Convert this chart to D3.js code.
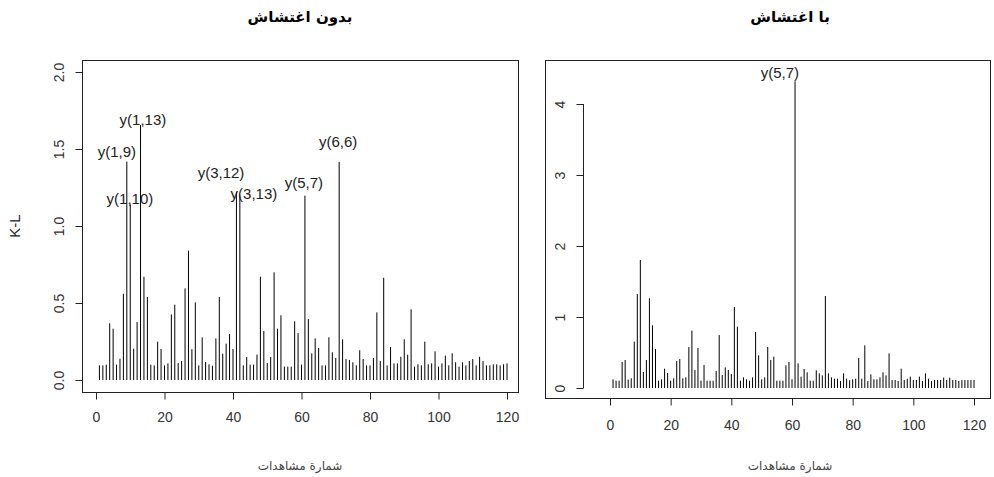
<!DOCTYPE html>
<html>
<head>
<meta charset="utf-8">
<script src="https://cdn.jsdelivr.net/npm/d3@7"></script>
<style>
  body { margin: 0; background: #fff; }
  text { font-family: "Liberation Sans", Arial, sans-serif; }
</style>
</head>
<body>
<div id="chart"></div>
<script>
const obs = d3.range(1, 121);

const klNoNoise = [
  0.095, 0.095, 0.10, 0.368, 0.333, 0.10, 0.138, 0.56, 1.418, 1.14,
  0.203, 0.377, 1.656, 0.671, 0.539, 0.10, 0.095, 0.249, 0.201, 0.095,
  0.108, 0.426, 0.489, 0.11, 0.123, 0.595, 0.84, 0.20, 0.504, 0.095,
  0.277, 0.117, 0.102, 0.093, 0.27, 0.539, 0.171, 0.236, 0.299, 0.201,
  1.22, 1.20, 0.095, 0.149, 0.10, 0.10, 0.165, 0.671, 0.318, 0.11,
  0.149, 0.699, 0.333, 0.42, 0.087, 0.087, 0.087, 0.381, 0.305, 0.10,
  1.197, 0.396, 0.173, 0.27, 0.208, 0.095, 0.095, 0.277, 0.18, 0.143,
  1.416, 0.264, 0.136, 0.13, 0.115, 0.095, 0.193, 0.136, 0.095, 0.095,
  0.143, 0.439, 0.123, 0.664, 0.095, 0.214, 0.108, 0.108, 0.151, 0.264,
  0.164, 0.459, 0.087, 0.102, 0.095, 0.249, 0.102, 0.108, 0.186, 0.087,
  0.108, 0.158, 0.095, 0.173, 0.115, 0.087, 0.115, 0.095, 0.123, 0.136,
  0.095, 0.151, 0.123, 0.095, 0.095, 0.102, 0.102, 0.095, 0.102, 0.108
];

const klNoise = [
  0.122, 0.103, 0.103, 0.366, 0.394, 0.117, 0.136, 0.653, 1.324, 1.803,
  0.225, 0.394, 1.263, 0.883, 0.549, 0.103, 0.122, 0.272, 0.211, 0.103,
  0.136, 0.38, 0.408, 0.136, 0.15, 0.577, 0.808, 0.254, 0.563, 0.103,
  0.324, 0.103, 0.103, 0.103, 0.239, 0.746, 0.183, 0.291, 0.254, 0.197,
  1.141, 0.864, 0.103, 0.15, 0.122, 0.103, 0.15, 0.789, 0.46, 0.122,
  0.15, 0.577, 0.394, 0.441, 0.103, 0.103, 0.103, 0.319, 0.366, 0.122,
  4.32, 0.347, 0.16, 0.268, 0.221, 0.103, 0.103, 0.249, 0.207, 0.178,
  1.296, 0.207, 0.15, 0.131, 0.131, 0.099, 0.207, 0.131, 0.108, 0.122,
  0.131, 0.423, 0.131, 0.601, 0.099, 0.192, 0.122, 0.122, 0.15, 0.221,
  0.178, 0.488, 0.113, 0.113, 0.099, 0.272, 0.113, 0.131, 0.16, 0.113,
  0.113, 0.16, 0.099, 0.206, 0.131, 0.099, 0.113, 0.113, 0.113, 0.146,
  0.113, 0.146, 0.113, 0.113, 0.099, 0.113, 0.113, 0.113, 0.113, 0.113
];

// point labels: text, x (obs units), y (K-L units)
const labelsNoNoise = [
  {t: "y(1,13)", x: 13.7, y: 1.69},
  {t: "y(1,9)",  x: 6.1,  y: 1.48},
  {t: "y(1,10)", x: 9.9,  y: 1.175},
  {t: "y(3,12)", x: 36.5, y: 1.344},
  {t: "y(3,13)", x: 46.1, y: 1.208},
  {t: "y(5,7)",  x: 60.7, y: 1.28},
  {t: "y(6,6)",  x: 70.7, y: 1.545}
];
const labelsNoise = [
  {t: "y(5,7)", x: 56.0, y: 4.44}
];

const xTicks = [0, 20, 40, 60, 80, 100, 120];
const yTicksLeft = [0, 0.5, 1.0, 1.5, 2.0];
const yTicksRight = [0, 1, 2, 3, 4];

const titleLeft = "بدون اغتشاش";
const titleRight = "با اغتشاش";
const xTitle = "شمارة مشاهدات";
const yTitle = "K-L";

const svg = d3.select("#chart").append("svg")
    .attr("width", 994)
    .attr("height", 477)
    .style("background", "#fff");

function drawPanel(p) {
    let x = d3.scaleLinear().domain([0, 120]).range(p.xr);
    let y = d3.scaleLinear().domain(p.yd).range(p.yr);
    let g = svg.append("g");

    // frame
    g.append("rect")
        .attr("x", p.box[0] + 0.5).attr("y", p.box[1] + 0.5)
        .attr("width", p.box[2] - p.box[0]).attr("height", p.box[3] - p.box[1])
        .attr("fill", "none").attr("stroke", "#222").attr("stroke-width", 1);

    // spikes (type = "h")
    g.append("g").selectAll("line")
        .data(p.values)
        .enter()
        .append("line")
        .attr("x1", (d, i) => x(obs[i]))
        .attr("x2", (d, i) => x(obs[i]))
        .attr("y1", y(0))
        .attr("y2", d => y(d))
        .attr("stroke", "#000")
        .attr("stroke-width", 1);

    // x axis
    let xa = g.append("g")
        .attr("transform", `translate(0,${p.box[3] + 0.5})`)
        .call(d3.axisBottom(x).tickValues(xTicks).tickSize(7).tickPadding(p.xPad));
    xa.select(".domain").attr("d", `M${x(0)},0H${x(120)}`).attr("stroke", "#222");
    xa.selectAll(".tick line").attr("stroke", "#222");
    xa.selectAll("text").attr("font-size", 14).attr("fill", "#333")
        .style("font-family", "Liberation Sans, Arial, sans-serif");

    // y axis
    let ya = g.append("g")
        .attr("transform", `translate(${p.yAxisX + 0.5},0)`)
        .call(d3.axisLeft(y).tickValues(p.yTicks).tickSize(7).tickFormat(p.fmt));
    ya.select(".domain").attr("d", `M0,${y(p.yTicks[0])}V${y(p.yTicks[p.yTicks.length - 1])}`).attr("stroke", "#222");
    ya.selectAll(".tick line").attr("stroke", "#222");
    ya.selectAll(".tick text")
        .attr("x", null).attr("dy", null)
        .attr("text-anchor", "middle")
        .attr("transform", "translate(-19,0) rotate(-90)")
        .attr("font-size", 14).attr("fill", "#333")
        .style("font-family", "Liberation Sans, Arial, sans-serif");

    // labels at points
    g.append("g").selectAll("text")
        .data(p.labels)
        .enter()
        .append("text")
        .attr("x", d => x(d.x))
        .attr("y", d => y(d.y))
        .attr("dy", "0.35em")
        .attr("text-anchor", "middle")
        .attr("font-size", 15)
        .attr("fill", "#222")
        .text(d => d.t);

    // titles
    g.append("text")
        .attr("x", p.titleX).attr("y", 22)
        .attr("text-anchor", "middle")
        .attr("font-size", 15).attr("font-weight", "bold")
        .style("font-family", "DejaVu Sans, sans-serif")
        .text(p.title);

    g.append("text")
        .attr("x", p.titleX).attr("y", 470)
        .attr("text-anchor", "middle")
        .attr("font-size", 12).attr("fill", "#444")
        .style("font-family", "DejaVu Sans, sans-serif")
        .text(xTitle);
}

drawPanel({
    values: klNoNoise,
    xr: [96, 507], yd: [0, 2], yr: [380, 72],
    box: [82, 60, 518, 392], yAxisX: 82, xPad: 13,
    yTicks: yTicksLeft, fmt: d3.format(".1f"),
    labels: labelsNoNoise,
    title: titleLeft, titleX: 300
});

// y title of left panel
svg.append("text")
    .attr("transform", "translate(20,226) rotate(-90)")
    .attr("text-anchor", "middle")
    .attr("font-size", 15).attr("fill", "#222")
    .text(yTitle);

drawPanel({
    values: klNoise,
    xr: [610, 974], yd: [0, 4], yr: [388, 104],
    box: [545, 60, 990, 398], yAxisX: 583, xPad: 15,
    yTicks: yTicksRight, fmt: d3.format("d"),
    labels: labelsNoise,
    title: titleRight, titleX: 790
});

// y title of right panel, mostly hidden behind the left picture
svg.append("clipPath").attr("id", "kl-clip")
    .append("rect").attr("x", 522).attr("y", 0).attr("width", 22).attr("height", 477);
svg.append("text")
    .attr("clip-path", "url(#kl-clip)")
    .attr("transform", "translate(530,226) rotate(-90)")
    .attr("text-anchor", "middle")
    .attr("font-size", 15).attr("fill", "#222")
    .text(yTitle);
</script>
</body>
</html>
